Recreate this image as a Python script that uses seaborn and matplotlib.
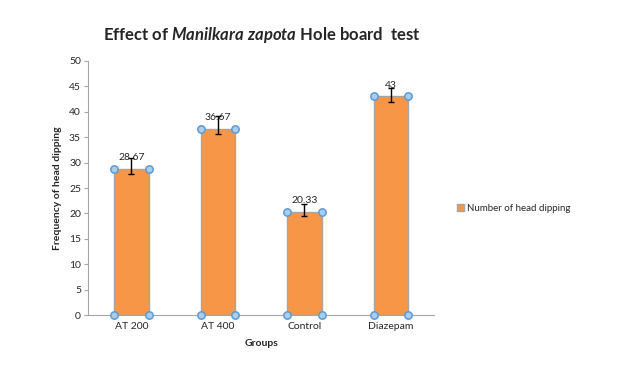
import numpy as np
import pandas as pd
import matplotlib
matplotlib.use("Agg")
import matplotlib.pyplot as plt
import seaborn as sns

# data
groups = ["AT 200", "AT 400", "Control", "Diazepam"]
head_dips = [28.67, 36.67, 20.33, 43]
err_low = [1.0, 1.0, 0.9, 1.0]
err_high = [2.2, 2.5, 1.6, 1.6]
value_labels = ["28.67", "36.67", "20.33", "43"]

df = pd.DataFrame({"Groups": groups, "Frequency": head_dips})

sns.set_style("white")
plt.rcParams["font.family"] = ["Lato", "DejaVu Sans"]
plt.rcParams["mathtext.fontset"] = "custom"
plt.rcParams["mathtext.it"] = "Lato:italic:bold"
plt.rcParams["mathtext.rm"] = "Lato:bold"

fig = plt.figure(figsize=(6.24, 3.69), dpi=100)
ax = fig.add_axes([0.141, 0.146, 0.555, 0.689])

sns.barplot(data=df, x="Groups", y="Frequency", color="#F79646", saturation=1,
            width=0.4, edgecolor="#A6A6A6", linewidth=1,
            label="Number of head dipping", ax=ax)

# asymmetric error bars
ax.errorbar(np.arange(len(groups)), head_dips, yerr=[err_low, err_high],
            fmt="none", ecolor="black", elinewidth=1, capsize=2.5, capthick=1)

# selection handles at bar corners
for bar in ax.patches:
    x0, w, h = bar.get_x(), bar.get_width(), bar.get_height()
    ax.scatter([x0, x0 + w, x0, x0 + w], [0, 0, h, h], s=28,
               facecolor="#A9CDEB", edgecolor="#5B9BD5", linewidth=1.1, zorder=5,
               clip_on=False)

for i, v in enumerate(head_dips):
    ax.annotate(value_labels[i], (i, v), xytext=(0, 5), textcoords="offset points",
                ha="center", va="bottom", fontsize=7.5, color="#262626")

ax.set_ylim(0, 50)
ax.set_yticks(range(0, 51, 5))
ax.set_xlim(-0.5, 3.5)
ax.tick_params(axis="y", labelsize=7.5, length=3, color="#A6A6A6", left=True, pad=2)
ax.tick_params(axis="x", labelsize=7.5, length=0, pad=5)
for lab in ax.get_xticklabels() + ax.get_yticklabels():
    lab.set_color("#262626")

sns.despine(ax=ax)
ax.spines["left"].set_color("#A6A6A6")
ax.spines["bottom"].set_color("#A6A6A6")

ax.set_xlabel("Groups", fontsize=7.5, fontweight="bold", labelpad=6)
ax.set_ylabel("Frequency of head dipping", fontsize=7.5, fontweight="bold", labelpad=5)

fig.text(0.419, 0.905, "Effect of $\\it{Manilkara\\ zapota}$ Hole board  test",
         ha="center", va="center", fontsize=12, fontweight="bold")

ax.legend(loc="center left", bbox_to_anchor=(1.04, 0.42), frameon=False,
          fontsize=7, handlelength=0.7, handleheight=0.7, handletextpad=0.3)

fig.savefig("out.png", dpi=100)
